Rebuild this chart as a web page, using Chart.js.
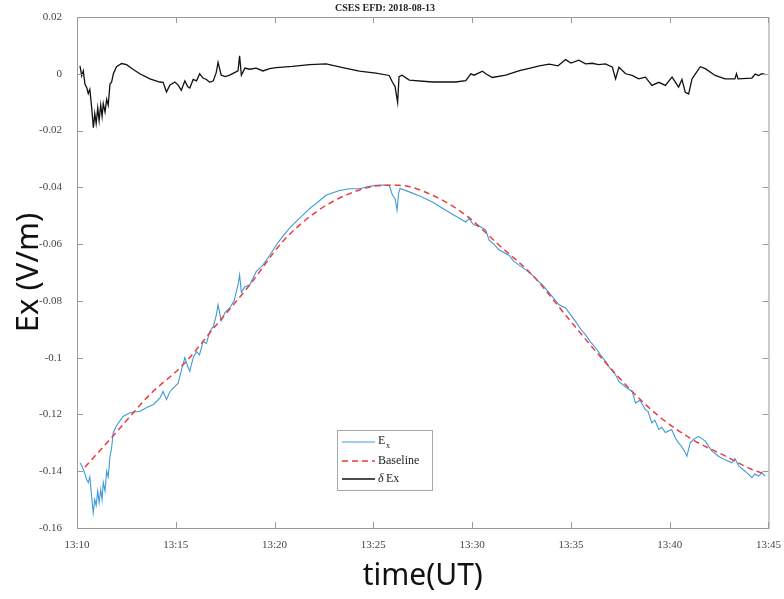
<!DOCTYPE html>
<html>
<head>
<meta charset="utf-8">
<script src="https://cdn.jsdelivr.net/npm/chart.js@4/dist/chart.umd.min.js"></script>
<style>
  body { margin: 0; background: #fff; }
  #wrap { width: 784px; height: 599px; }
</style>
</head>
<body>
<div id="wrap"><canvas id="line-chart"></canvas></div>
<script>
// minutes after 13:10 UT
const exTime = [0.15,0.24,0.32,0.40,0.49,0.57,0.65,0.74,0.82,0.90,0.97,1.05,1.12,1.20,1.27,1.33,1.42,1.50,1.58,1.67,1.75,1.83,2.00,2.34,2.69,3.20,3.55,3.87,4.20,4.36,4.53,4.70,4.87,5.12,5.30,5.46,5.60,5.71,5.88,6.05,6.20,6.38,6.55,6.72,6.90,7.05,7.14,7.30,7.50,7.73,7.95,8.15,8.23,8.32,8.50,8.74,9.07,9.41,9.75,10.08,10.42,10.76,11.10,11.43,11.77,12.10,12.60,13.28,13.79,14.30,14.70,15.10,15.50,15.80,15.97,16.10,16.20,16.28,16.35,16.82,17.40,17.99,18.60,19.20,19.68,19.85,20.02,20.19,20.45,20.69,20.86,21.10,21.37,21.87,22.10,22.38,22.70,23.05,23.30,23.56,24.00,24.40,24.73,25.00,25.24,25.50,25.74,26.00,26.25,26.50,26.75,27.00,27.26,27.43,27.80,28.10,28.27,28.50,28.77,28.90,29.10,29.25,29.45,29.60,29.78,30.10,30.30,30.45,30.60,30.75,30.87,31.04,31.20,31.46,31.80,32.14,32.47,32.80,33.15,33.30,33.50,33.82,34.16,34.30,34.50,34.66,34.83];
const exVal = [-0.1370,-0.1380,-0.1394,-0.1410,-0.1429,-0.1440,-0.1420,-0.1490,-0.1546,-0.1500,-0.1520,-0.1470,-0.1510,-0.1465,-0.1500,-0.1440,-0.1470,-0.1400,-0.1420,-0.1347,-0.1320,-0.1265,-0.1240,-0.1206,-0.1194,-0.1189,-0.1175,-0.1165,-0.1142,-0.1119,-0.1148,-0.1120,-0.1107,-0.1090,-0.1040,-0.1000,-0.1030,-0.1048,-0.1000,-0.0978,-0.0990,-0.0943,-0.0950,-0.0908,-0.0890,-0.0850,-0.0814,-0.0870,-0.0840,-0.0825,-0.0800,-0.0744,-0.0709,-0.0770,-0.0750,-0.0744,-0.0697,-0.0674,-0.0640,-0.0604,-0.0572,-0.0544,-0.0520,-0.0498,-0.0475,-0.0457,-0.0428,-0.0411,-0.0405,-0.0405,-0.0398,-0.0393,-0.0392,-0.0393,-0.0428,-0.0440,-0.0480,-0.0420,-0.0404,-0.0416,-0.0432,-0.0452,-0.0478,-0.0503,-0.0522,-0.0510,-0.0528,-0.0534,-0.0540,-0.0551,-0.0586,-0.0600,-0.0621,-0.0639,-0.0660,-0.0674,-0.0690,-0.0709,-0.0728,-0.0744,-0.0780,-0.0814,-0.0825,-0.0850,-0.0873,-0.0900,-0.0920,-0.0945,-0.0965,-0.0990,-0.1013,-0.1040,-0.1060,-0.1084,-0.1105,-0.1119,-0.1160,-0.1150,-0.1183,-0.1189,-0.1230,-0.1220,-0.1253,-0.1245,-0.1264,-0.1253,-0.1285,-0.1300,-0.1312,-0.1330,-0.1347,-0.1300,-0.1288,-0.1277,-0.1294,-0.1329,-0.1347,-0.1360,-0.1370,-0.1355,-0.1382,-0.1400,-0.1423,-0.1410,-0.1417,-0.1405,-0.1417];

const baseTime = [0.40,2.00,3.69,5.37,7.05,8.74,10.40,12.10,13.80,15.47,16.31,17.99,19.68,21.37,23.05,24.73,26.41,28.10,29.45,31.14,32.83,34.16,34.83];
const baseVal = [-0.1386,-0.1262,-0.1130,-0.1025,-0.0885,-0.0744,-0.0592,-0.0487,-0.0422,-0.0393,-0.0393,-0.0428,-0.0498,-0.0604,-0.0709,-0.0850,-0.0990,-0.1119,-0.1206,-0.1288,-0.1347,-0.1394,-0.1410];

const dTime = [0.15,0.24,0.32,0.40,0.50,0.57,0.65,0.74,0.83,0.90,0.97,1.05,1.12,1.20,1.27,1.33,1.42,1.50,1.58,1.67,1.75,1.84,2.00,2.26,2.51,2.85,3.18,3.69,4.19,4.36,4.53,4.70,4.95,5.12,5.28,5.46,5.60,5.71,5.88,6.05,6.21,6.38,6.55,6.72,6.90,7.05,7.14,7.30,7.50,7.73,7.95,8.15,8.23,8.32,8.50,8.74,9.07,9.41,9.75,10.08,10.90,11.77,12.61,13.45,14.29,15.13,15.80,15.97,16.10,16.23,16.30,16.45,16.82,17.99,19.17,19.68,19.93,20.10,20.52,20.69,21.02,21.70,22.40,23.05,23.40,23.90,24.35,24.73,25.00,25.40,25.74,26.08,26.40,26.75,27.10,27.26,27.43,27.77,28.10,28.43,28.77,29.10,29.45,29.78,30.12,30.45,30.62,30.79,30.96,31.13,31.30,31.55,31.80,32.30,32.80,33.30,33.38,33.46,34.16,34.33,34.50,34.66,34.83];
const dVal = [0.0028,-0.0007,0.0010,-0.0036,-0.0050,-0.0070,-0.0055,-0.0117,-0.0190,-0.0140,-0.0175,-0.0120,-0.0165,-0.0110,-0.0150,-0.0105,-0.0135,-0.0090,-0.0110,-0.0036,-0.0030,0.0000,0.0025,0.0036,0.0032,0.0015,0.0000,-0.0018,-0.0029,-0.0030,-0.0064,-0.0040,-0.0029,-0.0040,-0.0058,-0.0025,-0.0045,-0.0050,-0.0020,-0.0025,0.0000,-0.0015,-0.0020,-0.0030,-0.0025,0.0005,0.0040,-0.0005,-0.0010,-0.0005,0.0003,0.0010,0.0063,-0.0005,0.0020,0.0016,0.0020,0.0010,0.0018,0.0022,0.0026,0.0032,0.0035,0.0022,0.0009,0.0002,-0.0006,-0.0030,-0.0045,-0.0101,-0.0010,-0.0005,-0.0022,-0.0029,-0.0029,-0.0024,0.0000,-0.0005,0.0009,0.0000,-0.0013,-0.0005,0.0011,0.0022,0.0028,0.0034,0.0028,0.0050,0.0038,0.0048,0.0035,0.0037,0.0032,0.0035,0.0023,-0.0018,0.0023,0.0000,-0.0006,-0.0018,-0.0012,-0.0041,-0.0030,-0.0041,-0.0012,-0.0047,-0.0020,-0.0065,-0.0071,-0.0018,0.0000,0.0025,0.0018,-0.0006,-0.0018,-0.0018,0.0000,-0.0018,-0.0015,-0.0001,-0.0006,0.0000,-0.0002];

const xTicks = [0, 5, 10, 15, 20, 25, 30, 35];
const yTicks = [0.02, 0, -0.02, -0.04, -0.06, -0.08, -0.1, -0.12, -0.14, -0.16];

function pts(t, v) { return t.map((x, i) => ({ x: x, y: v[i] })); }

const serif = "'Liberation Serif', 'DejaVu Serif', serif";

// box + inward ticks, and the small legend inside the plot
const frame = {
	id: 'frame',
	afterDraw(chart) {
		const c = chart.ctx, a = chart.chartArea;
		const sx = chart.scales.x, sy = chart.scales.y;
		c.save();
		c.strokeStyle = '#9a9a9a';
		c.lineWidth = 1;
		c.strokeRect(a.left + 0.5, a.top + 0.5, a.right - a.left, a.bottom - a.top);
		c.beginPath();
		xTicks.forEach(v => {
			const px = Math.round(sx.getPixelForValue(v)) + 0.5;
			c.moveTo(px, a.bottom); c.lineTo(px, a.bottom - 6);
			c.moveTo(px, a.top); c.lineTo(px, a.top + 6);
		});
		yTicks.forEach(v => {
			const py = Math.round(sy.getPixelForValue(v)) + 0.5;
			c.moveTo(a.left, py); c.lineTo(a.left + 6, py);
			c.moveTo(a.right, py); c.lineTo(a.right - 6, py);
		});
		c.stroke();

		// legend
		const lx = 337, ly = 430, lw = 95, lh = 60;
		c.fillStyle = '#fff';
		c.fillRect(lx, ly, lw, lh);
		c.strokeStyle = '#a8a8a8';
		c.strokeRect(lx + 0.5, ly + 0.5, lw, lh);
		const rows = [ly + 12, ly + 31, ly + 49];
		chart.data.datasets.forEach((ds, i) => {
			c.beginPath();
			c.strokeStyle = ds.borderColor;
			c.lineWidth = ds.borderWidth;
			c.setLineDash(ds.borderDash || []);
			c.moveTo(lx + 5, rows[i]); c.lineTo(lx + 38, rows[i]);
			c.stroke();
		});
		c.setLineDash([]);
		c.fillStyle = '#222';
		c.textBaseline = 'middle';
		c.font = '12px ' + serif;
		c.fillText('E', lx + 41, rows[0] - 1);
		c.font = '8px ' + serif;
		c.fillText('x', lx + 49, rows[0] + 4);
		c.font = '12px ' + serif;
		c.fillText('Baseline', lx + 41, rows[1]);
		c.font = 'italic 12px ' + serif;
		c.fillText('\u03B4', lx + 41, rows[2]);
		c.font = '12px ' + serif;
		c.fillText('Ex', lx + 49, rows[2]);
		c.restore();
	}
};

new Chart(document.getElementById('line-chart'), {
	type: 'line',
	data: {
		datasets: [
		{
			label: 'Ex',
			data: pts(exTime, exVal),
			borderColor: '#3e9bd8',
			borderWidth: 1.1,
			order: 2
		}, {
			label: 'Baseline',
			data: pts(baseTime, baseVal),
			borderColor: '#ee3b3b',
			borderWidth: 1.5,
			borderDash: [6, 4],
			cubicInterpolationMode: 'monotone',
			order: 1
		}, {
			label: '\u03B4 Ex',
			data: pts(dTime, dVal),
			borderColor: '#111111',
			borderWidth: 1.3,
			order: 3
		}
		]
	},
	options: {
		responsive: true,
		maintainAspectRatio: false,
		animation: false,
		layout: { padding: { left: 0, right: 14, top: 0, bottom: 0 } },
		elements: { point: { radius: 0 }, line: { tension: 0, fill: false } },
		plugins: {
			legend: { display: false },
			tooltip: { enabled: false },
			title: {
				display: true,
				text: 'CSES EFD: 2018-08-13',
				color: '#222',
				font: { family: serif, size: 10, weight: 'bold' },
				padding: { top: 2, bottom: 3 }
			}
		},
		scales: {
			x: {
				type: 'linear',
				min: 0,
				max: 35,
				afterFit(s) { s.height = 71; },
				afterBuildTicks(s) { s.ticks = xTicks.map(v => ({ value: v })); },
				grid: { display: false },
				border: { display: false },
				ticks: {
					color: '#444',
					font: { family: serif, size: 11 },
					padding: 3,
					maxRotation: 0,
					callback: v => '13:' + String(10 + v).padStart(2, '0')
				},
				title: {
					display: true,
					text: 'time(UT)',
					color: '#111',
					font: { family: "'Noto Sans', sans-serif", size: 30 },
					padding: { top: 0, bottom: 5 }
				}
			},
			y: {
				min: -0.16,
				max: 0.02,
				afterFit(s) { s.width = 77; },
				afterBuildTicks(s) { s.ticks = yTicks.map(v => ({ value: v })); },
				grid: { display: false },
				border: { display: false },
				ticks: {
					color: '#444',
					font: { family: serif, size: 11 },
					padding: 7,
					callback: v => String(parseFloat(v.toFixed(2)))
				},
				title: {
					display: true,
					text: 'Ex (V/m)',
					color: '#111',
					font: { family: "'Noto Sans', sans-serif", size: 31 },
					padding: { top: 11, bottom: 0 }
				}
			}
		}
	},
	plugins: [frame]
});
</script>
</body>
</html>
